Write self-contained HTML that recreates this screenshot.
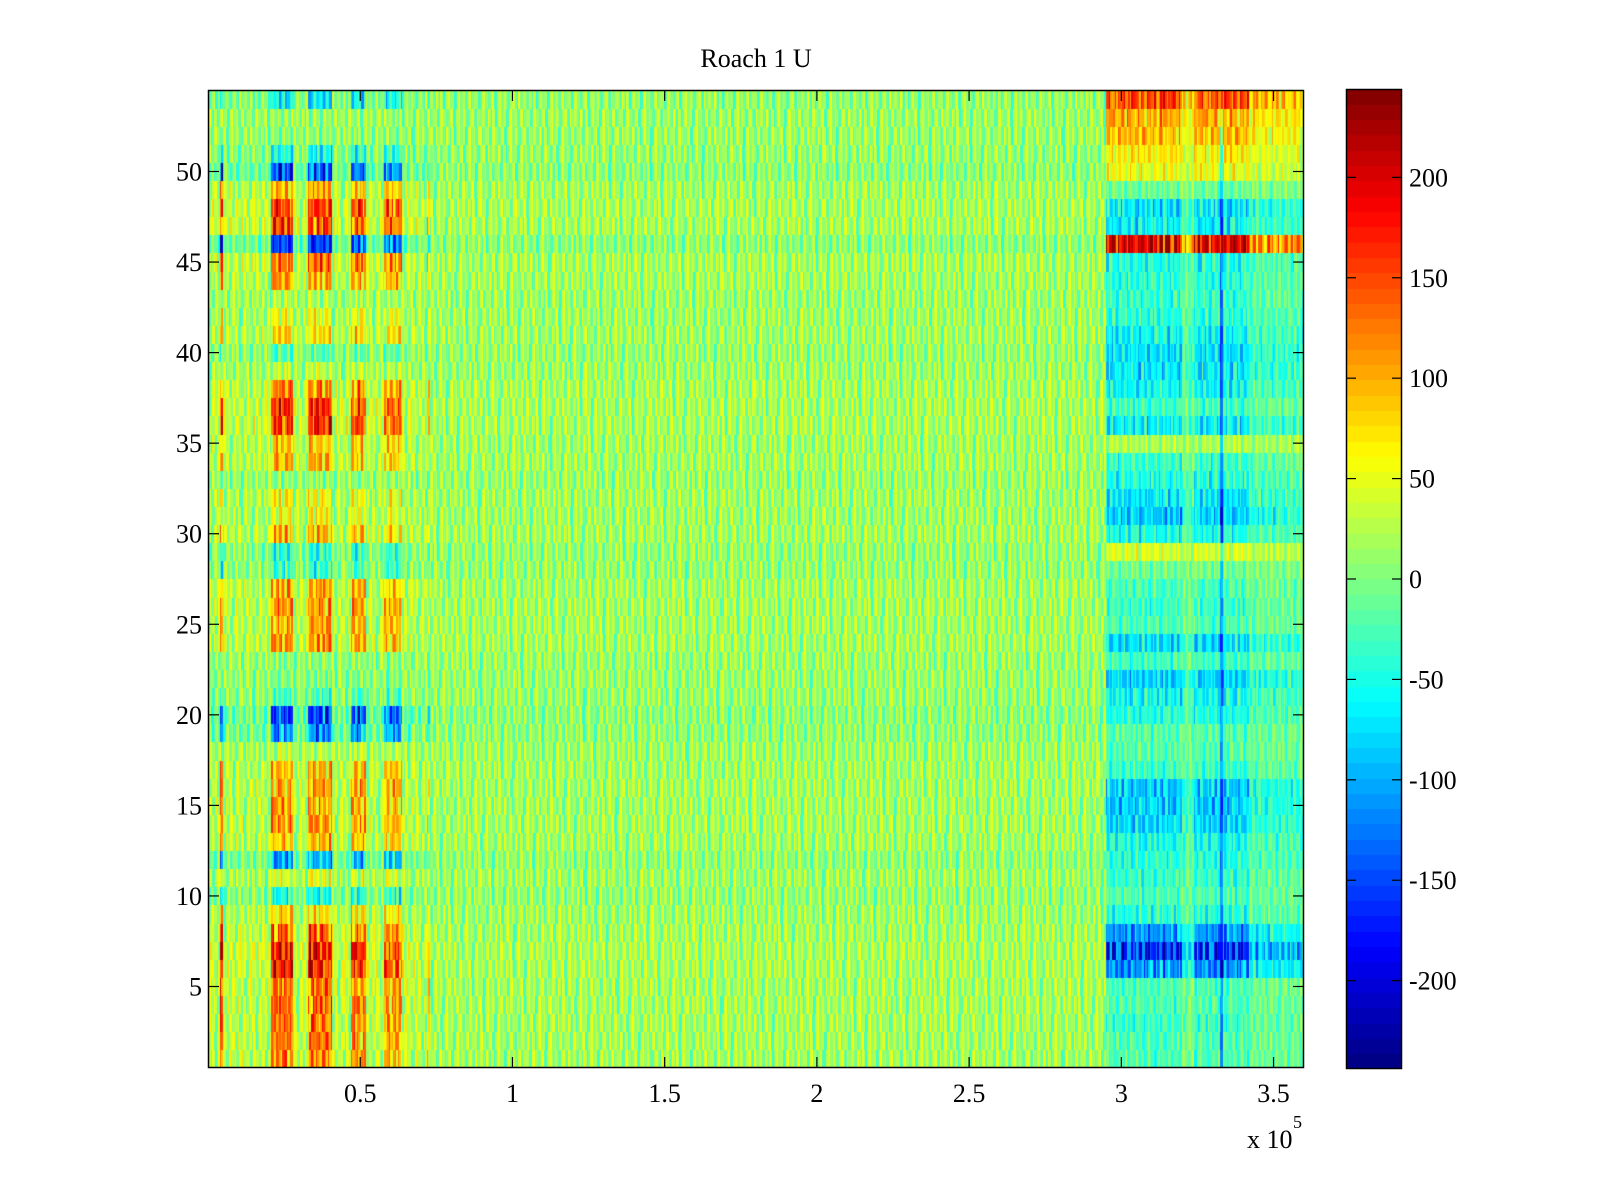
<!DOCTYPE html>
<html><head><meta charset="utf-8"><title>Roach 1 U</title>
<style>
html,body{margin:0;padding:0;background:#fff;}
#wrap{position:relative;width:1600px;height:1200px;overflow:hidden;}
canvas{position:absolute;}
svg{position:absolute;left:0;top:0;}
text{font-family:"Liberation Serif",serif;font-size:26px;fill:#000;}
</style></head>
<body>
<div id="wrap">
<canvas id="heat" width="1096" height="978" style="left:208px;top:90px;"></canvas>
<canvas id="cbar" width="56" height="980" style="left:1346px;top:89px;"></canvas>
<svg id="ax" width="1600" height="1200"></svg>
</div>
<script>
// ---- data ----
const xTicks = [0.5,1,1.5,2,2.5,3,3.5];
const xTickLabels = ["0.5","1","1.5","2","2.5","3","3.5"];
const yTicks = [5,10,15,20,25,30,35,40,45,50];
const cTicks = [-200,-150,-100,-50,0,50,100,150,200];
// per-row (1..54) amplitude of the early-time band pattern
const leftRow = [130,140,140,150,140,200,210,150,80,-80,40,-140,100,120,110,120,100,20,-160,-200,-50,-20,-10,120,110,120,110,-60,-70,100,50,60,-10,100,90,180,180,130,20,-40,80,50,10,110,150,-200,170,180,100,-190,-80,-10,0,-100];
// per-row (1..54) amplitude of the late-time block pattern
const rightRow = [-50,-50,-60,-50,-50,-160,-220,-150,-70,-40,-60,-60,-80,-110,-120,-120,-60,-40,-30,-60,-80,-110,-50,-110,-50,-60,-50,-20,40,-80,-120,-100,-70,-60,10,-100,-60,-90,-100,-100,-90,-70,-60,-70,-80,230,-100,-110,-30,60,70,100,110,170];
// early-time band segments (x in 1e5 units)
const leftBandStart = [0.040,0.21,0.33,0.47,0.58,0.72];
const leftBandEnd   = [0.052,0.28,0.41,0.52,0.64,0.73];
const leftBandAmp   = [1.1,1.0,1.0,0.9,0.8,0.4];
// late-time block segments
const rightBandStart = [2.95,3.20,3.24,3.42];
const rightBandEnd   = [3.20,3.24,3.42,3.61];
const rightBandAmp   = [1.0,0.5,1.0,0.6];
const darkLineX = [3.325,3.335];
const darkLineVal = -80;
// sampled background texture (values read as relative deviations)
const texture = [0.3,-0.6,0.8,0.1,-0.2,0.9,-0.9,0.4,-0.1,0.6,-0.5,0.2,0.7,-0.8,0.0,0.5,-0.3,1.0,-0.7,0.3,-0.4,0.8,0.1,-1.0,0.6,-0.2,0.4,-0.6,0.9,-0.1,0.2,-0.8,0.7,0.0,-0.5,0.5,-0.9,0.3,0.8,-0.3,0.1,-0.7,0.6,-0.4,1.0,-0.2,0.4,-0.6,0.2,0.7,-1.0,0.5,-0.1,0.3,-0.8,0.9,0.0,-0.4,0.6,-0.6,0.2];
const bgLevel = 10;
const bgSpread = 48;
const cMin = -244, cMax = 244;
const xMin = 0, xMax = 3.6, nRows = 54, nCols = 720;

// ---- scales ----
const PL=208, PT=90, PW=1096, PH=978;
const xS = v => PL + (v - xMin)/(xMax - xMin)*PW;
const yS = r => PT + (nRows + 0.5 - r)/nRows*PH;
const CB = {l:1346, t:89, w:56, h:980};
const cS = v => CB.t + (cMax - v)/(cMax - cMin)*CB.h;

function jet(i,n){
  const x=(i+0.5)/n;
  const c=t=>Math.max(0,Math.min(1,t));
  return [c(1.5-Math.abs(4*x-3)),c(1.5-Math.abs(4*x-2)),c(1.5-Math.abs(4*x-1))].map(v=>Math.round(v*255));
}
const cmap=[];for(let i=0;i<64;i++)cmap.push(jet(i,64));
function colorOf(v){
  let k=Math.floor((v-cMin)/(cMax-cMin)*64); k=Math.max(0,Math.min(63,k));
  const c=cmap[k]; return `rgb(${c[0]},${c[1]},${c[2]})`;
}
function segAmp(x,s,e,a,def){for(let i=0;i<s.length;i++){if(x>=s[i]&&x<e[i])return a[i];}return def;}

// ---- heatmap ----
const hc=document.getElementById('heat').getContext('2d');
const colW=(xMax-xMin)/nCols;
for(let r=1;r<=nRows;r++){
  const y0=yS(r+0.5)-PT, y1=yS(r-0.5)-PT;
  for(let c=0;c<nCols;c++){
    const xv=xMin+(c+0.5)*colW;
    const t1=texture[(c*31+r*17)%texture.length];
    const t2=texture[(c*13+r*29+7)%texture.length];
    const la=segAmp(xv,leftBandStart,leftBandEnd,leftBandAmp,xv<0.7?0.14:0.04);
    const ra=segAmp(xv,rightBandStart,rightBandEnd,rightBandAmp,0);
    let v=bgLevel+t1*bgSpread*(ra>0?0.7:1);
    v+=leftRow[r-1]*la*(0.8+0.3*t2);
    v+=rightRow[r-1]*ra*(0.8+0.3*t2);
    if(xv>=darkLineX[0]&&xv<darkLineX[1]&&rightRow[r-1]<150)v+=darkLineVal;
    hc.fillStyle=colorOf(v);
    const x0=(xS(xv-colW/2)-PL), x1=(xS(xv+colW/2)-PL);
    hc.fillRect(Math.floor(x0),Math.floor(y0),Math.ceil(x1)-Math.floor(x0),Math.ceil(y1)-Math.floor(y0));
  }
}
// ---- colorbar ----
const cc=document.getElementById('cbar').getContext('2d');
for(let i=0;i<64;i++){
  const lo=cMin+i*(cMax-cMin)/64, hi=cMin+(i+1)*(cMax-cMin)/64;
  const c=cmap[i]; cc.fillStyle=`rgb(${c[0]},${c[1]},${c[2]})`;
  const y0=Math.floor(cS(hi)-CB.t), y1=Math.ceil(cS(lo)-CB.t);
  cc.fillRect(0,y0,CB.w,y1-y0);
}
// ---- axes (SVG) ----
const svg=document.getElementById('ax');const NS='http://www.w3.org/2000/svg';
function mk(tag,attrs,txt){const e=document.createElementNS(NS,tag);for(const k in attrs)e.setAttribute(k,attrs[k]);if(txt!==undefined)e.textContent=txt;svg.appendChild(e);return e;}
let e;
e=mk('rect',{x:PL+0.5,y:PT+0.5,width:PW-1,height:PH-1,fill:'none',stroke:'#000','stroke-width':1.5});


e=mk('rect',{x:CB.l+0.5,y:CB.t+0.5,width:CB.w-1,height:CB.h-1,fill:'none',stroke:'#000','stroke-width':1.5});


xTicks.forEach((t,i)=>{
  const x=xS(t);
  e=mk('line',{x1:x,y1:PT+PH,x2:x,y2:PT+PH-11,stroke:'#000','stroke-width':1.2});
  
  
  e=mk('line',{x1:x,y1:PT,x2:x,y2:PT+11,stroke:'#000','stroke-width':1.2});
  
  
  e=mk('text',{x:x,y:PT+PH+34,'text-anchor':'middle'},xTickLabels[i]);
  
  
});
yTicks.forEach(t=>{
  const y=yS(t);
  e=mk('line',{x1:PL,y1:y,x2:PL+11,y2:y,stroke:'#000','stroke-width':1.2});
  
  
  e=mk('line',{x1:PL+PW,y1:y,x2:PL+PW-11,y2:y,stroke:'#000','stroke-width':1.2});
  
  
  e=mk('text',{x:PL-6,y:y+9,'text-anchor':'end'},String(t));
  
  
});
cTicks.forEach(t=>{
  const y=cS(t);
  e=mk('line',{x1:CB.l,y1:y,x2:CB.l+10,y2:y,stroke:'#000','stroke-width':1.2});
  
  
  e=mk('line',{x1:CB.l+CB.w,y1:y,x2:CB.l+CB.w-10,y2:y,stroke:'#000','stroke-width':1.2});
  
  
  e=mk('text',{x:CB.l+CB.w+7,y:y+9,'text-anchor':'start'},String(t));
  
  
});
e=mk('text',{x:PL+PW/2,y:67,'text-anchor':'middle'},'Roach 1 U');


e=mk('text',{x:1247,y:1148,'text-anchor':'start'},'x 10');


e=mk('text',{x:1293,y:1128,'text-anchor':'start',style:'font-size:18px'},'5');


</script>
</body></html>
